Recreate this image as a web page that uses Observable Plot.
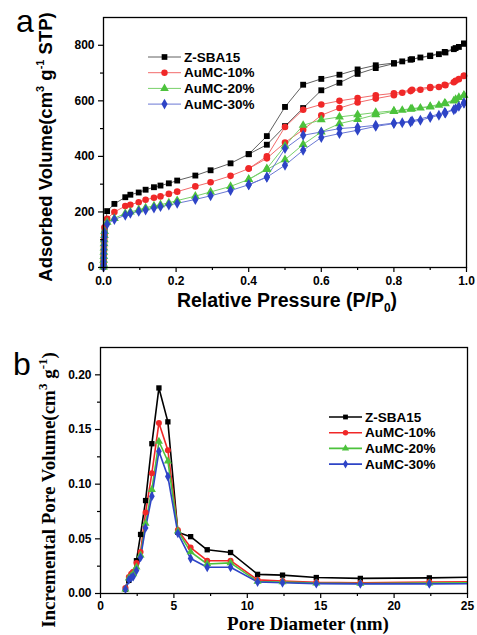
<!DOCTYPE html>
<html><head><meta charset="utf-8">
<script src="https://cdn.jsdelivr.net/npm/d3@7"></script>
<script src="https://cdn.jsdelivr.net/npm/@observablehq/plot@0.6"></script>
<style>
body{margin:0;background:#fff;}
#chart{position:relative;width:477px;height:635px;overflow:hidden;}
#chart svg{display:block;background:#fff;overflow:visible;}
</style></head><body><div id="chart"></div>
<script>
// ---------- series meta ----------
const seriesNames = ["Z-SBA15", "AuMC-10%", "AuMC-20%", "AuMC-30%"];
const seriesColors = ["#000000", "#f02828", "#4cc23c", "#2e44c6"];
const lineColorsA = ["#606060", "#f26a6a", "#78d06a", "#6a78d4"];
const seriesSymbols = ["square", "circle", "triangle", "diamond"];

// ---------- panel a: N2 isotherms ----------
const adsP = [0.0002,0.0004,0.0006,0.0008,0.001,0.0013,0.0016,0.002,0.0025,0.003,
  0.01,0.03,0.06,0.074,0.097,0.116,0.139,0.157,0.18,0.203,0.253,0.295,0.35,0.4,0.45,
  0.5,0.55,0.6,0.65,0.7,0.75,0.8,0.823,0.846,0.873,0.9,0.924,0.942,0.965,0.979,0.993];
const sbaAdsV = [3,15,30,45,60,75,90,105,120,140,
  203,229,253,262,270,280,289,295,303,313,331,350,375,408,442,
  509,574,638,665,697,718,734,742,748,756,761,768,774,786,794,806];
const mc10AdsV = [3,14,28,42,58,72,88,104,120,145,
  175,200,221,226,235,244,251,256,265,273,292,307,330,356,393,
  450,496,548,574,594,608,620,629,635,640,646,650,656,667,678,690];
const mc20AdsV = [2,12,26,40,55,70,86,100,115,130,
  163,177,195,200,208,215,222,226,233,241,257,272,292,317,353,
  388,443,488,518,533,550,562,566,570,574,578,584,590,600,612,620];
const mc30AdsV = [2,10,22,35,50,65,80,95,110,125,
  156,173,188,195,202,207,214,219,225,231,245,258,277,298,325,
  368,422,468,482,494,508,518,521,524,530,540,548,556,568,580,592];

const desP = [0.993,0.97,0.94,0.9,0.85,0.8,0.75,0.7,0.65,0.6,0.55,0.5,0.45,0.4];
const sbaDesV  = [806,790,776,763,750,736,728,713,694,679,658,578,473,408];
const mc10DesV = [690,672,658,650,640,627,620,610,600,587,568,506,400,356];
const mc20DesV = [620,605,592,580,572,564,558,550,542,532,512,438,356,317];
const mc30DesV = [592,572,558,544,528,520,512,505,500,488,476,428,326,298];

const adsV = [sbaAdsV, mc10AdsV, mc20AdsV, mc30AdsV];
const desV = [sbaDesV, mc10DesV, mc20DesV, mc30DesV];

const xTicksA = [0, 0.2, 0.4, 0.6, 0.8, 1.0];
const xMinorA = [0.1, 0.3, 0.5, 0.7, 0.9];
const yTicksA = [0, 200, 400, 600, 800];
const yMinorA = [100, 300, 500, 700];

// ---------- panel b: pore size distribution ----------
const poreD = [1.7,1.93,2.09,2.23,2.45,2.73,3.07,3.5,3.98,4.59,5.27,6.14,7.27,8.86,10.7,12.4,14.7,17.7,22.4,27.5];
const sbaPV  = [0.004,0.012,0.016,0.019,0.030,0.054,0.085,0.137,0.188,0.157,0.056,0.052,0.040,0.0375,0.0175,0.0168,0.0146,0.0138,0.0143,0.0155];
const mc10PV = [0.005,0.015,0.018,0.020,0.028,0.038,0.074,0.110,0.156,0.131,0.058,0.042,0.030,0.030,0.0125,0.0115,0.0102,0.0098,0.0105,0.011];
const mc20PV = [0.004,0.014,0.016,0.018,0.024,0.035,0.064,0.095,0.139,0.121,0.057,0.038,0.027,0.028,0.011,0.0105,0.0095,0.0092,0.0095,0.010];
const mc30PV = [0.004,0.0125,0.0144,0.0156,0.021,0.033,0.060,0.089,0.130,0.107,0.055,0.032,0.024,0.024,0.0105,0.0098,0.009,0.0088,0.0088,0.009];
const pvSeries = [sbaPV, mc10PV, mc20PV, mc30PV];

const xTicksB = [0, 5, 10, 15, 20, 25];
const xMinorB = [2.5, 7.5, 12.5, 17.5, 22.5];
const yTicksB = [0, 0.05, 0.10, 0.15, 0.20];
const yMinorB = [0.025, 0.075, 0.125, 0.175];

// ---------- build tables ----------
const isoData = seriesNames.map((name, i) => [
  ...adsP.map((p, j) => ({series: name, p, v: adsV[i][j]})),
  ...desP.map((p, j) => ({series: name, p, v: desV[i][j]}))
]);
const pvData = seriesNames.map((name, i) => poreD.map((d, j) => ({series: name, d, v: pvSeries[i][j]})));

const sans = "'Liberation Sans', Arial, sans-serif";
const serif = "'Liberation Serif', 'Times New Roman', serif";

// ---------- panel a plot ----------
const marksA = [];
isoData.forEach((rows, i) => {
  marksA.push(Plot.line(rows, {x: "p", y: "v", stroke: lineColorsA[i], strokeWidth: 1}));
});
isoData.forEach((rows, i) => {
  marksA.push(Plot.dot(rows, {x: "p", y: "v", symbol: seriesSymbols[i], fill: seriesColors[i], stroke: "none", r: 3.3}));
});
marksA.push(
  Plot.frame({stroke: "#000", strokeWidth: 1.3}),
  Plot.axisX(xTicksA, {tickSize: 5, tickPadding: 4, tickFormat: d => d.toFixed(1), label: null, strokeWidth: 1.2}),
  Plot.axisX(xMinorA, {tickSize: 3, tickFormat: () => "", label: null, strokeWidth: 1.2}),
  Plot.axisY(yTicksA, {tickSize: 5, tickPadding: 4, tickFormat: d => String(d), label: null, strokeWidth: 1.2}),
  Plot.axisY(yMinorA, {tickSize: 3, tickFormat: () => "", label: null, strokeWidth: 1.2})
);
const plotA = Plot.plot({
  width: 477, height: 318,
  marginLeft: 103, marginRight: 11, marginTop: 17, marginBottom: 51,
  x: {domain: [0, 1]},
  y: {domain: [0, 900]},
  style: {fontFamily: sans, fontSize: "12px", fontWeight: "bold", color: "#000", background: "#fff"},
  marks: marksA
});

// ---------- panel b plot ----------
const marksB = [];
pvData.forEach((rows, i) => {
  marksB.push(Plot.line(rows, {x: "d", y: "v", stroke: seriesColors[i], strokeWidth: 1.6, clip: true}));
});
pvData.forEach((rows, i) => {
  marksB.push(Plot.dot(rows, {x: "d", y: "v", symbol: seriesSymbols[i], fill: seriesColors[i], stroke: "none", r: 3.0, clip: true}));
});
marksB.push(
  Plot.frame({stroke: "#000", strokeWidth: 1.3}),
  Plot.axisX(xTicksB, {tickSize: 5, tickPadding: 3, tickFormat: d => String(d), label: null, strokeWidth: 1.2}),
  Plot.axisX(xMinorB, {tickSize: 3, tickFormat: () => "", label: null, strokeWidth: 1.2}),
  Plot.axisY(yTicksB, {tickSize: 5, tickPadding: 4, tickFormat: d => d.toFixed(2), label: null, strokeWidth: 1.2}),
  Plot.axisY(yMinorB, {tickSize: 3, tickFormat: () => "", label: null, strokeWidth: 1.2})
);
const plotB = Plot.plot({
  width: 477, height: 317,
  marginLeft: 100, marginRight: 10, marginTop: 29, marginBottom: 42,
  x: {domain: [0, 25]},
  y: {domain: [0, 0.225]},
  style: {fontFamily: sans, fontSize: "12px", fontWeight: "bold", color: "#000", background: "#fff"},
  marks: marksB
});

const chart = document.getElementById("chart");
chart.appendChild(plotA);
chart.appendChild(plotB);

// ---------- annotations (titles, panel letters, legends) ----------
const symMap = {square: d3.symbolSquare, circle: d3.symbolCircle, triangle: d3.symbolTriangle, diamond: d3.symbolDiamond};

function legend(svg, x0, x1, xm, xt, y0, dy, r, lw, lineCols) {
  const g = svg.append("g").attr("text-anchor", "start");
  seriesNames.forEach((name, i) => {
    const y = y0 + i * dy;
    g.append("line").attr("x1", x0).attr("x2", x1).attr("y1", y).attr("y2", y)
      .attr("stroke", lineCols[i]).attr("stroke-width", lw);
    g.append("path").attr("d", d3.symbol(symMap[seriesSymbols[i]], Math.PI * r * r)())
      .attr("transform", `translate(${xm},${y})`).attr("fill", seriesColors[i]);
    g.append("text").attr("x", xt).attr("y", y).attr("dy", "0.35em").attr("text-anchor", "start")
      .attr("font-family", sans).attr("font-weight", "bold").attr("font-size", 13.5)
      .attr("fill", "#000").text(name);
  });
}

const sA = d3.select(plotA);
sA.append("text").attr("x", 16).attr("y", 32).attr("text-anchor", "start").attr("font-family", sans)
  .attr("font-size", 32).attr("font-weight", "normal").attr("fill", "#000").text("a");
// x title a
{
  const t = sA.append("text").attr("x", 287).attr("y", 307).attr("text-anchor", "middle")
    .attr("font-family", sans).attr("font-size", 19.5).attr("font-weight", "bold").attr("fill", "#000");
  t.append("tspan").text("Relative Pressure (P/P");
  t.append("tspan").attr("font-size", 12).attr("dy", 5).text("0");
  t.append("tspan").attr("dy", -5).text(")");
}
// y title a
{
  const t = sA.append("text").attr("transform", "translate(52,147) rotate(-90)").attr("text-anchor", "middle")
    .attr("font-family", sans).attr("font-size", 18.5).attr("font-weight", "bold").attr("fill", "#000");
  t.append("tspan").text("Adsorbed Volume(cm");
  t.append("tspan").attr("font-size", 11).attr("dy", -8).text("3");
  t.append("tspan").attr("dy", 8).text(" g");
  t.append("tspan").attr("font-size", 11).attr("dy", -8).text("-1");
  t.append("tspan").attr("dy", 8).text(" STP)");
}
legend(sA, 148, 181, 164.5, 184, 57, 15.7, 3.2, 1, lineColorsA);

const sB = d3.select(plotB);
sB.append("text").attr("x", 13).attr("y", 57).attr("text-anchor", "start").attr("font-family", sans)
  .attr("font-size", 32).attr("font-weight", "normal").attr("fill", "#000").text("b");
// x title b
{
  sB.append("text").attr("x", 308).attr("y", 312).attr("text-anchor", "middle")
    .attr("font-family", serif).attr("font-size", 19).attr("font-weight", "bold").attr("fill", "#000")
    .text("Pore Diameter (nm)");
}
// y title b
{
  const t = sB.append("text").attr("transform", "translate(55,172) rotate(-90)").attr("text-anchor", "middle")
    .attr("font-family", serif).attr("font-size", 19).attr("font-weight", "bold").attr("fill", "#000");
  t.append("tspan").text("Incremental Pore Volume(cm");
  t.append("tspan").attr("font-size", 13).attr("dy", -8).text("3");
  t.append("tspan").attr("dy", 8).text(" g");
  t.append("tspan").attr("font-size", 13).attr("dy", -8).text("-1");
  t.append("tspan").attr("dy", 8).text(")");
}
legend(sB, 329, 362, 345.5, 365, 99, 15.7, 2.7, 1.6, seriesColors);
</script>
</body></html>
